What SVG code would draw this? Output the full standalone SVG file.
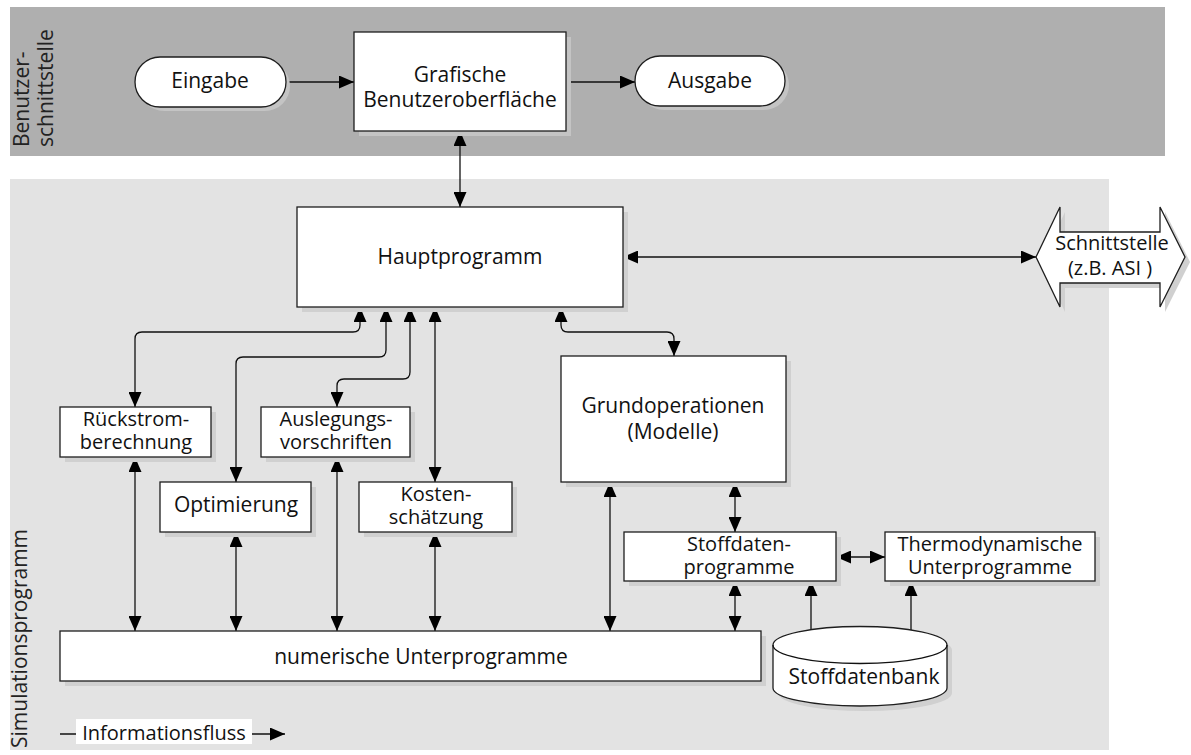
<svg xmlns="http://www.w3.org/2000/svg" width="1191" height="755" viewBox="0 0 1191 755">
<defs>
<style>
.bx{fill:#fff;stroke:#1e1e1e;stroke-width:1.3}
.sh1{fill:#c4c4c4}
.sh2{fill:#d0d0d0}
.t{font-family:"Open Sans","Noto Sans",sans-serif;font-size:21px;fill:#111;text-anchor:middle}
.t2{font-family:"Open Sans","Noto Sans",sans-serif;font-size:20px;fill:#111;text-anchor:middle}
.tl{font-family:"Open Sans","Noto Sans",sans-serif;font-size:21px;fill:#222}
.c{fill:none;stroke:#111;stroke-width:1.3}
.a1{marker-end:url(#ah)}
.a2{marker-start:url(#ah);marker-end:url(#ah)}
</style>
<marker id="ah" markerUnits="userSpaceOnUse" markerWidth="15" markerHeight="13" refX="15" refY="6.5" orient="auto-start-reverse" viewBox="0 0 15 13">
<path d="M0,0 L15,6.5 L0,13 z" fill="#000"/>
</marker>
</defs>

<g id="bands">
<rect x="10" y="7" width="1155" height="149" fill="#afafaf"/>
<rect x="10" y="179" width="1099" height="571" fill="#e3e3e3"/>
<text class="tl" transform="translate(29,147) rotate(-90)">Benutzer-</text>
<text class="tl" transform="translate(53,147) rotate(-90)">schnittstelle</text>
<text class="tl" transform="translate(27,748) rotate(-90)">Simulationsprogramm</text>
</g>

<g id="connectors">
<path class="c a1" d="M286,82 H354"/>
<path class="c a1" d="M566,82 H635"/>
<path class="c a2" d="M460,131 V207"/>
<path class="c a2" d="M623,257 H1036"/>
<path class="c a2" d="M360,307 V325 Q360,332 353,332 H142 Q135,332 135,339 V407"/>
<path class="c a2" d="M386,307 V350 Q386,357 379,357 H243 Q236,357 236,364 V482"/>
<path class="c a2" d="M410,307 V372 Q410,379 403,379 H344 Q337,379 337,386 V407"/>
<path class="c a2" d="M435,307 V482"/>
<path class="c a2" d="M561,307 V325 Q561,332 568,332 H667 Q674,332 674,339 V356"/>
<path class="c a2" d="M135,457 V631"/>
<path class="c a2" d="M236,532 V631"/>
<path class="c a2" d="M337,457 V631"/>
<path class="c a2" d="M435,532 V631"/>
<path class="c a2" d="M610,631 V482"/>
<path class="c a2" d="M735,482 V532"/>
<path class="c a2" d="M735,581 V631"/>
<path class="c a1" d="M811,630 V581"/>
<path class="c a1" d="M911,630 V581"/>
<path class="c a2" d="M836,557 H885"/>
</g>

<g id="eingabe">
<rect class="sh1" x="139" y="61" width="151" height="50" rx="25"/>
<rect class="bx" x="135" y="57" width="151" height="50" rx="25"/>
<text class="t" x="210" y="88">Eingabe</text>
</g>
<g id="gui">
<rect class="sh1" x="359" y="37" width="212" height="99"/>
<rect class="bx" x="354" y="32" width="212" height="99"/>
<text class="t" x="460" y="82">Grafische</text>
<text class="t" x="460" y="107">Benutzeroberfläche</text>
</g>
<g id="ausgabe">
<rect class="sh1" x="639" y="60" width="150" height="50" rx="25"/>
<rect class="bx" x="635" y="56" width="150" height="50" rx="25"/>
<text class="t" x="710" y="88">Ausgabe</text>
</g>

<g id="hauptprogramm">
<rect class="sh2" x="302" y="212" width="326" height="100"/>
<rect class="bx" x="297" y="207" width="326" height="100"/>
<text class="t" x="460" y="264">Hauptprogramm</text>
</g>

<g id="schnittstelle">
<path class="sh2" d="M1041,262 L1065,212 V237 H1165 V212 L1190,262 L1165,312 V288 H1065 V312 z"/>
<path class="bx" d="M1036,257 L1060,207 V232 H1160 V207 L1185,257 L1160,307 V283 H1060 V307 z"/>
<text class="t2" x="1112" y="250">Schnittstelle</text>
<text class="t2" x="1110" y="275">(z.B. ASI )</text>
</g>

<g id="rueckstrom">
<rect class="sh2" x="65" y="412" width="151" height="50"/>
<rect class="bx" x="60" y="407" width="151" height="50"/>
<text class="t2" x="136" y="426">Rückstrom-</text>
<text class="t2" x="136" y="449">berechnung</text>
</g>
<g id="auslegung">
<rect class="sh2" x="266" y="412" width="149" height="50"/>
<rect class="bx" x="261" y="407" width="149" height="50"/>
<text class="t2" x="336" y="426">Auslegungs-</text>
<text class="t2" x="336" y="449">vorschriften</text>
</g>
<g id="optimierung">
<rect class="sh2" x="165" y="487" width="151" height="50"/>
<rect class="bx" x="160" y="482" width="151" height="50"/>
<text class="t" x="236" y="512">Optimierung</text>
</g>
<g id="kosten">
<rect class="sh2" x="364" y="487" width="153" height="50"/>
<rect class="bx" x="359" y="482" width="153" height="50"/>
<text class="t2" x="436" y="501">Kosten-</text>
<text class="t2" x="436" y="524">schätzung</text>
</g>
<g id="grundoperationen">
<rect class="sh2" x="566" y="361" width="225" height="126"/>
<rect class="bx" x="561" y="356" width="225" height="126"/>
<text class="t" x="673" y="413">Grundoperationen</text>
<text class="t" x="673" y="439">(Modelle)</text>
</g>
<g id="stoffdaten">
<rect class="sh2" x="629" y="537" width="212" height="49"/>
<rect class="bx" x="624" y="532" width="212" height="49"/>
<text class="t2" x="739" y="551">Stoffdaten-</text>
<text class="t2" x="739" y="574">programme</text>
</g>
<g id="thermo">
<rect class="sh2" x="890" y="537" width="210" height="49"/>
<rect class="bx" x="885" y="532" width="210" height="49"/>
<text class="t2" x="990" y="551">Thermodynamische</text>
<text class="t2" x="990" y="574">Unterprogramme</text>
</g>
<g id="numerische">
<rect class="sh2" x="65" y="636" width="701" height="50"/>
<rect class="bx" x="60" y="631" width="701" height="50"/>
<text class="t" x="421" y="664">numerische Unterprogramme</text>
</g>
<g id="stoffdatenbank">
<path class="sh2" d="M778,650 A87,18.5 0 0 1 952,650 V693 A87,18 0 0 1 778,693 z"/>
<path class="bx" d="M773,645 A87,18.5 0 0 1 947,645 V688 A87,18 0 0 1 773,688 z"/>
<path class="c" d="M773,645 A87,18.5 0 0 0 947,645"/>
<text class="t" x="864" y="684">Stoffdatenbank</text>
</g>

<g id="legende">
<path class="c a1" d="M60,734 H285"/>
<rect x="76" y="719" width="176" height="25" fill="#fff"/>
<text class="t" x="164" y="740" style="font-size:20px">Informationsfluss</text>
</g>
</svg>
